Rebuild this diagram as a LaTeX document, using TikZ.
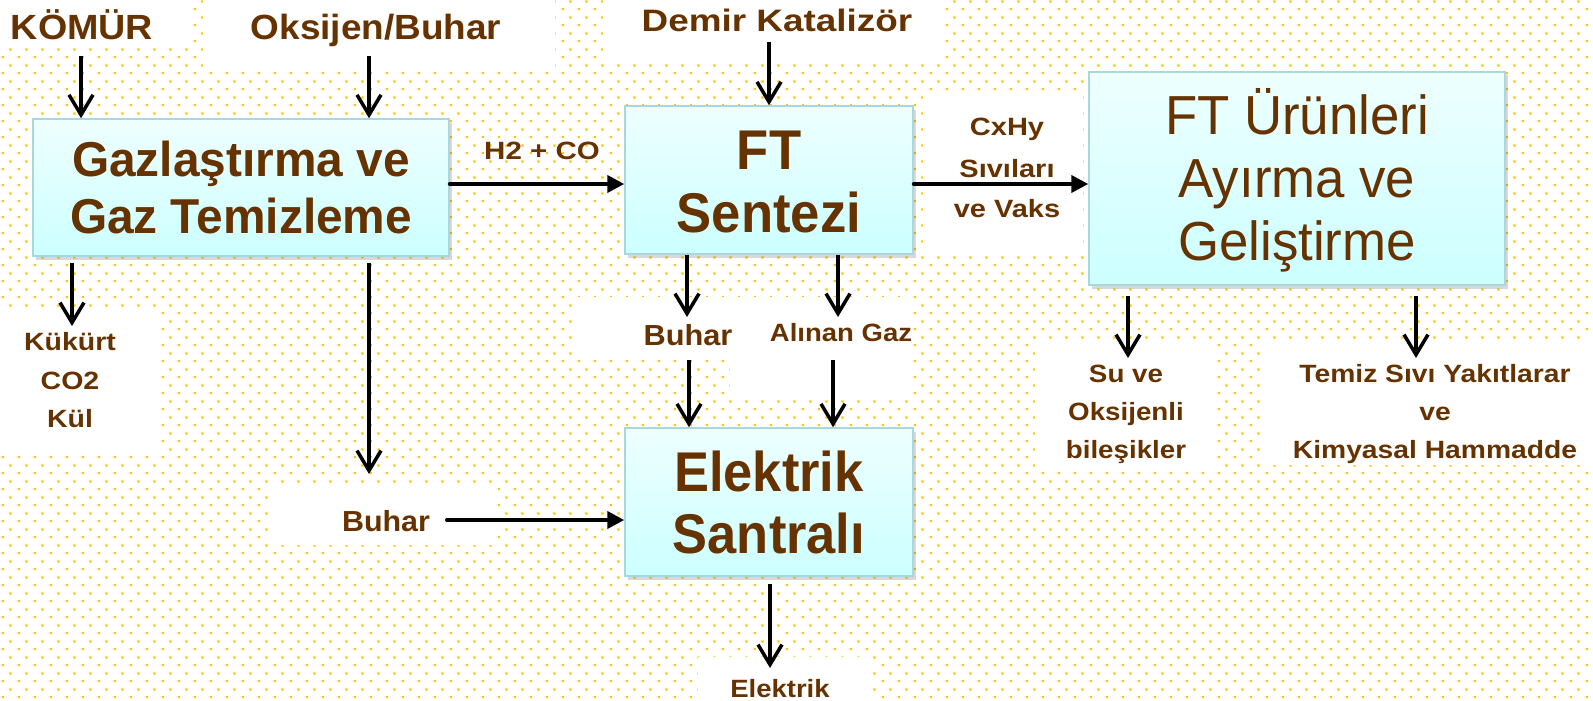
\documentclass[tikz,border=0pt]{standalone}
\usepackage{fontspec}
\usepackage{graphicx}
\setmainfont{Liberation Sans}
\usetikzlibrary{arrows.meta,patterns.meta,shadows}
\definecolor{txt}{HTML}{663300}
\definecolor{dotc}{HTML}{FFC000}
\definecolor{boxtop}{HTML}{EEFFFF}
\definecolor{boxbot}{HTML}{CCFFFF}
\definecolor{boxline}{HTML}{A8D8DC}
\newcommand{\hsc}[2]{\scalebox{#1}[1]{#2}}
\tikzdeclarepattern{
  name=golddots, type=colored,
  bottom left={(0pt,0pt)}, top right={(16pt,16pt)},
  tile size={(16pt,16pt)},
  code={\fill[dotc] (3pt,3pt) rectangle (5.3pt,5.3pt); \fill[dotc] (11pt,11pt) rectangle (13.3pt,13.3pt);}
}
\begin{document}
\begin{tikzpicture}[x=1pt,y=-1pt,
  box/.style={draw=boxline, line width=1.5pt, top color=boxtop, bottom color=boxbot, inner sep=0pt,
    drop shadow={shadow xshift=2.5pt, shadow yshift=-3.5pt, opacity=0.3}},
  lbl/.style={anchor=base, text=txt, inner sep=0pt},
  fA/.style={font=\fontsize{35}{40}\selectfont\bfseries},
  fB/.style={font=\fontsize{31}{36}\selectfont\bfseries},
  fS/.style={font=\fontsize{25}{30}\selectfont\bfseries},
  fM/.style={font=\fontsize{29}{34}\selectfont\bfseries},
  fG/.style={font=\fontsize{49}{57}\selectfont\bfseries},
  fF/.style={font=\fontsize{56}{63}\selectfont\bfseries},
  fU/.style={font=\fontsize{55}{63}\selectfont},
  varr/.style={line width=3.5pt, -{Straight Barb[length=20pt, width=24pt]}},
  harr/.style={line width=4pt, line cap=round, -{Triangle[length=17pt, width=17pt]}},
  patch/.style={fill=white}
]
\useasboundingbox (0,0) rectangle (1593,701);
\fill[white] (0,0) rectangle (1593,701);
\fill[pattern=golddots] (0,0) rectangle (1593,701);
% white label backgrounds
\fill[patch] (0,0) rectangle (193,48);
\fill[patch] (203,0) rectangle (555,70);
\fill[patch] (603,0) rectangle (943,63);
\fill[patch] (923,95) rectangle (1083,255);
\fill[patch] (0,307) rectangle (160,455);
\fill[patch] (572,297) rectangle (800,360);
\fill[patch] (730,297) rectangle (912,400);
\fill[patch] (268,487) rectangle (498,545);
\fill[patch] (698,657) rectangle (872,701);
\fill[patch] (1035,342) rectangle (1215,470);
\fill[patch] (1262,342) rectangle (1593,465);

% boxes
\node[box, minimum width=416pt, minimum height=137pt] (g) at (241,187.5) {};
\node[box, minimum width=288pt, minimum height=148pt] (f) at (769,180) {};
\node[box, minimum width=416pt, minimum height=213pt] (u) at (1297,178.5) {};
\node[box, minimum width=288pt, minimum height=148pt] (e) at (769,502) {};

% box texts
\node[lbl, fG] (g1) at (241,176) {\hsc{0.976}{Gazlaştırma ve}};
\node[lbl, fG] (g2) at (241,233) {\hsc{0.976}{Gaz Temizleme}};
\node[lbl, fF] (f1) at (769,169) {\hsc{0.94}{FT}};
\node[lbl, fF] (f2) at (769,232) {\hsc{0.94}{Sentezi}};
\node[lbl, fU] (u1) at (1297,134) {\hsc{0.96}{FT Ürünleri}};
\node[lbl, fU] (u2) at (1297,197) {\hsc{0.96}{Ayırma ve}};
\node[lbl, fU] (u3) at (1297,260) {\hsc{0.96}{Geliştirme}};
\node[lbl, fF] (e1) at (769,491) {\hsc{0.936}{Elektrik}};
\node[lbl, fF] (e2) at (769,553) {\hsc{0.936}{Santralı}};

% labels
\node[lbl, fA] (komur) at (82,40) {\hsc{1.077}{KÖMÜR}};
\node[lbl, fA] (oks) at (376,40) {\hsc{1.055}{Oksijen/Buhar}};
\node[lbl, fB] (demir) at (777,32) {\hsc{1.19}{Demir Katalizör}};
\node[lbl, fS] (h2co) at (542,159) {\hsc{1.18}{H2 + CO}};
\node[lbl, fS] (cx1) at (1007,135) {\hsc{1.16}{CxHy}};
\node[lbl, fS] (cx2) at (1007,177) {\hsc{1.16}{Sıvıları}};
\node[lbl, fS] (cx3) at (1007,217) {\hsc{1.16}{ve Vaks}};
\node[lbl, fS] (k1) at (70,350) {\hsc{1.14}{Kükürt}};
\node[lbl, fS] (k2) at (70,389) {\hsc{1.14}{CO2}};
\node[lbl, fS] (k3) at (70,427) {\hsc{1.14}{Kül}};
\node[lbl, fM] (bm) at (688,345) {\hsc{1.06}{Buhar}};
\node[lbl, fS] (ag) at (841,341) {\hsc{1.10}{Alınan Gaz}};
\node[lbl, fM] (bl) at (386,531) {\hsc{1.05}{Buhar}};
\node[lbl, fS] (el) at (780,697) {\hsc{1.10}{Elektrik}};
\node[lbl, fS] (s1) at (1126,382) {\hsc{1.11}{Su ve}};
\node[lbl, fS] (s2) at (1126,420) {\hsc{1.11}{Oksijenli}};
\node[lbl, fS] (s3) at (1126,458) {\hsc{1.11}{bileşikler}};
\node[lbl, fS] (t1) at (1435,382) {\hsc{1.13}{Temiz Sıvı Yakıtlarar}};
\node[lbl, fS] (t2) at (1435,420) {\hsc{1.13}{ve}};
\node[lbl, fS] (t3) at (1435,458) {\hsc{1.13}{Kimyasal Hammadde}};

% free arrow ends
\coordinate (ck) at (81,56);
\coordinate (co) at (369,56);
\coordinate (cd) at (769,42);
\coordinate (ck0) at (72,263);
\coordinate (ck1) at (72,326);
\coordinate (cb0) at (369,263);
\coordinate (cb1) at (369,474);
\coordinate (cbl) at (447,520);
\coordinate (cf1) at (687,317);
\coordinate (cf2) at (838,317);
\coordinate (cm1) at (689,360);
\coordinate (cm2) at (833,360);
\coordinate (ce0) at (770,584);
\coordinate (ce1) at (770,668);
\coordinate (cs0) at (1128,296);
\coordinate (cs1) at (1128,358);
\coordinate (ct0) at (1416,296);
\coordinate (ct1) at (1416,358);

% connectors
\draw[varr] (ck) -- (ck |- g.north);
\draw[varr] (co) -- (co |- g.north);
\draw[varr] (cd) -- (cd |- f.north);
\draw[harr] (g.east |- 0,184) -- (f.west |- 0,184);
\draw[harr] (f.east |- 0,184) -- (u.west |- 0,184);
\draw[varr] (ck0) -- (ck1);
\draw[varr] (cb0) -- (cb1);
\draw[harr] (cbl) -- (cbl -| e.west);
\draw[varr] (f.south -| cf1) -- (cf1);
\draw[varr] (f.south -| cf2) -- (cf2);
\draw[varr] (cm1) -- (cm1 |- e.north);
\draw[varr] (cm2) -- (cm2 |- e.north);
\draw[varr] (ce0) -- (ce1);
\draw[varr] (cs0) -- (cs1);
\draw[varr] (ct0) -- (ct1);
\end{tikzpicture}
\end{document}
